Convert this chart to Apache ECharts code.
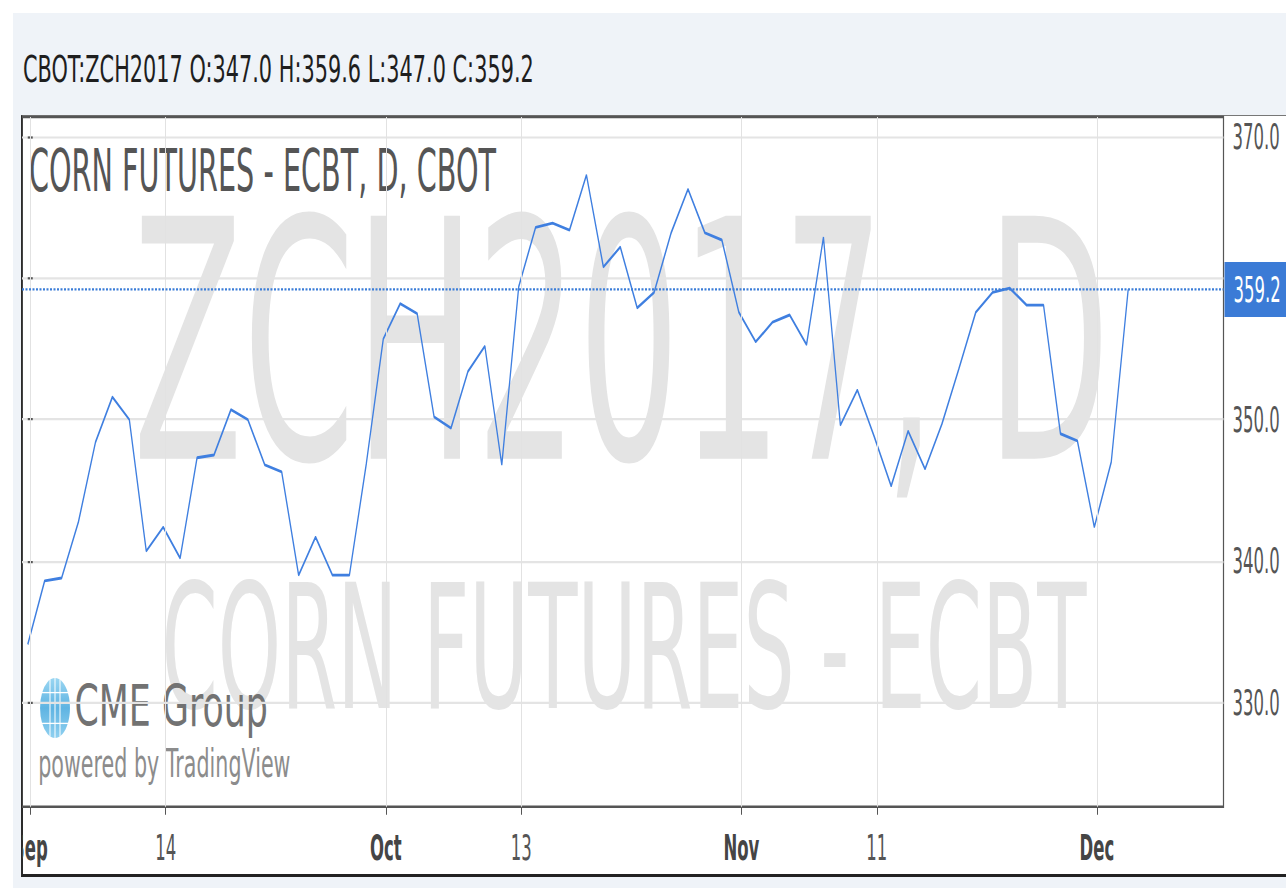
<!DOCTYPE html>
<html><head><meta charset="utf-8">
<script src="https://cdn.jsdelivr.net/npm/echarts@6/dist/echarts.min.js"></script>
<style>
html,body{margin:0;padding:0;background:#fff;overflow:hidden;width:1286px;height:888px;}
#panel{position:absolute;left:13px;top:13px;width:1273px;height:875px;background:#eff3f8;}
#frame{position:absolute;left:21px;top:115px;width:1265px;height:762px;box-sizing:border-box;background:#fff;border-left:2px solid #2b2b2b;border-top:1px solid #777;border-bottom:3px solid #222;}
#chart{position:absolute;left:22px;top:0;width:1264px;height:403.636px;transform:scaleY(2.2);transform-origin:0 0;}
</style></head><body>
<div id="panel"></div><div id="frame"></div><div id="chart"></div>
<script>
// ---- data (daily closes, CBOT ZCH2017, Sep 1 – Dec 5, 2016) ----
const dates = ['2016-09-01','2016-09-02','2016-09-06','2016-09-07','2016-09-08','2016-09-09','2016-09-12','2016-09-13','2016-09-14','2016-09-15','2016-09-16','2016-09-19','2016-09-20','2016-09-21','2016-09-22','2016-09-23','2016-09-26','2016-09-27','2016-09-28','2016-09-29','2016-09-30',
 '2016-10-03','2016-10-04','2016-10-05','2016-10-06','2016-10-07','2016-10-10','2016-10-11','2016-10-12','2016-10-13','2016-10-14','2016-10-17','2016-10-18','2016-10-19','2016-10-20','2016-10-21','2016-10-24','2016-10-25','2016-10-26','2016-10-27','2016-10-28','2016-10-31',
 '2016-11-01','2016-11-02','2016-11-03','2016-11-04','2016-11-07','2016-11-08','2016-11-09','2016-11-10','2016-11-11','2016-11-14','2016-11-15','2016-11-16','2016-11-17','2016-11-18','2016-11-21','2016-11-22','2016-11-23','2016-11-25','2016-11-28','2016-11-29','2016-11-30',
 '2016-12-01','2016-12-02','2016-12-05'];
const prices = [334.1,338.6,338.8,342.8,348.4,351.6,350.0,340.7,342.4,340.2,347.3,347.5,350.7,350.0,346.8,346.3,339.0,341.7,339.0,339.0,346.9,
 355.7,358.2,357.5,350.2,349.4,353.4,355.2,346.8,359.4,363.6,363.9,363.4,367.3,360.8,362.2,357.9,359.0,363.2,366.3,363.2,362.7,
 357.6,355.5,356.9,357.4,355.3,362.9,349.6,352.1,348.8,345.3,349.2,346.5,349.7,353.6,357.6,359.0,359.3,358.1,358.1,349.0,348.5,
 342.4,347.0,359.2];
const tickIdx = [0, 8, 21, 29, 42, 50, 63];
const tickText = ['Sep', '14', 'Oct', '13', 'Nov', '11', 'Dec'];
const monthTicks = ['Sep', 'Oct', 'Nov', 'Dec'];
const yTicks = [330, 340, 350, 360, 370];
const yLabels = [330, 340, 350, 370];   // 360.0 sits behind the last-price tag
const lastPrice = 359.2;
const headerText = 'CBOT:ZCH2017 O:347.0 H:359.6 L:347.0 C:359.2';
const titleText = 'CORN FUTURES - ECBT, D, CBOT';
const watermark1 = 'ZCH2017, D';
const watermark2 = 'CORN FUTURES - ECBT';
const logoText = 'CME Group';
const poweredText = 'powered by TradingView';

// ---- layout helpers (chart div is stretched vertically by K) ----
const K = 2.2;
const H = 888 / K;
const sy = v => v / K;
const sx = v => v - 22;
const FONT = '"DejaVu Sans", sans-serif';
const tickOffset = 0.15;
const xTickVals = tickIdx.map(i => i + tickOffset);

const chart = echarts.init(document.getElementById('chart'), null, {renderer: 'svg'});

function txt(text, x, y, size, color, scaleX, align, z, weight) {
  return {type: 'text', x: x, y: y, scaleX: scaleX, z: z, silent: true,
    style: {text: text, font: (weight || 'normal') + ' ' + size + 'px ' + FONT, fill: color,
      align: align, verticalAlign: 'middle', textAlign: align, textVerticalAlign: 'middle'}};
}

const globe = {type: 'group', x: sx(55), y: sy(708), z: -1, silent: true, children: [
  {type: 'circle', shape: {cx: 0, cy: 0, r: 13.6}, scaleX: 1.1,
   style: {fill: new echarts.graphic.LinearGradient(0, 0, 0, 1, [{offset: 0, color: '#9ad6f2'}, {offset: 0.5, color: '#5fb4e2'}, {offset: 1, color: '#8fd0f0'}])}},
  {type: 'line', shape: {x1: -5, y1: -13, x2: -5, y2: 13}, style: {stroke: '#fff', lineWidth: 1}},
  {type: 'line', shape: {x1: 0, y1: -14, x2: 0, y2: 14}, style: {stroke: '#fff', lineWidth: 1}},
  {type: 'line', shape: {x1: 5, y1: -13, x2: 5, y2: 13}, style: {stroke: '#fff', lineWidth: 1}},
  {type: 'line', shape: {x1: -16, y1: -7, x2: 16, y2: -7}, style: {stroke: '#fff', lineWidth: 0.6}},
  {type: 'line', shape: {x1: -16, y1: 7, x2: 16, y2: 7}, style: {stroke: '#fff', lineWidth: 0.6}}
]};

const option = {
  animation: false,
  grid: {left: 0, right: 1264 - sx(1223.5), top: sy(117), bottom: H - sy(806),
    show: true, borderColor: '#555', borderWidth: 1.2, backgroundColor: 'transparent', outerBoundsMode: 'none'},
  xAxis: {
    type: 'value', min: -0.34, max: 70.63,
    axisLine: {show: false}, splitLine: {show: false},
    axisTick: {show: true, customValues: xTickVals, length: 8 / K, lineStyle: {color: '#555', width: 1}},
    axisLabel: {
      customValues: xTickVals, margin: 10,
      formatter: function (v) {
        const i = tickIdx.indexOf(Math.round(v - tickOffset));
        if (i < 0) return '';
        const t = tickText[i];
        return monthTicks.indexOf(t) >= 0 ? '{m|' + t + '}' : '{d|' + t + '}';
      },
      rich: {
        m: {fontFamily: FONT, fontSize: 16.5, fontWeight: 'bold', color: '#454545'},
        d: {fontFamily: FONT, fontSize: 16.5, color: '#555'}
      }
    }
  },
  yAxis: {
    type: 'value', position: 'right', min: 322.62, max: 371.40,
    axisLine: {show: false},
    axisTick: {show: true, customValues: yTicks, length: 5, lineStyle: {color: '#555', width: 1}},
    axisLabel: {customValues: yLabels, margin: 9, formatter: v => Number(v).toFixed(1),
      fontFamily: FONT, fontSize: 16.5, color: '#555'},
    splitLine: {show: true, lineStyle: {color: '#e4e4e4', width: 1}}
  },
  graphic: [
    txt(watermark1, 599.5, sy(343.5), 151.5, '#e4e4e4', 1.06, 'center', -2),
    txt(watermark2, 602, sy(648), 79, '#e4e4e4', 1.02, 'center', -2),
    globe,
    txt(logoText, 52.5, sy(706), 26, '#727272', 1.34, 'left', -1),
    txt(poweredText, 16.2, sy(763), 17.5, '#8c8c8c', 1.18, 'left', -1),
    txt(titleText, 7, sy(171), 26.8, '#555', 1.07, 'left', 5),
    txt(headerText, 1, sy(69), 16.8, '#1e1e1e', 1.24, 'left', 5)
  ],
  series: [
    {
      type: 'line', z: 1, data: [[0, 350]], symbol: 'none', lineStyle: {opacity: 0}, silent: true,
      markLine: {silent: true, symbol: 'none', animation: false, label: {show: false},
        lineStyle: {color: '#e2e2e2', width: 1, type: 'solid'},
        data: xTickVals.map(v => ({xAxis: v}))}
    },
    {
      type: 'line', z: 3, name: 'ZCH2017',
      data: prices.map((v, i) => [i, v]),
      symbol: 'none', showSymbol: false,
      lineStyle: {color: '#3f7fe0', width: 1.3},
      markLine: {
        silent: true, symbol: 'none', animation: false,
        data: [{yAxis: lastPrice}],
        lineStyle: {color: '#3b7dd8', width: 1, type: [2, 1.5]},
        label: {show: true, position: 'end', distance: 1, formatter: lastPrice.toFixed(1),
          color: '#fff', backgroundColor: '#3b7bd6', padding: [4, 20, 4, 9],
          fontFamily: FONT, fontSize: 16.5}
      }
    }
  ]
};
chart.setOption(option);
</script></body></html>
